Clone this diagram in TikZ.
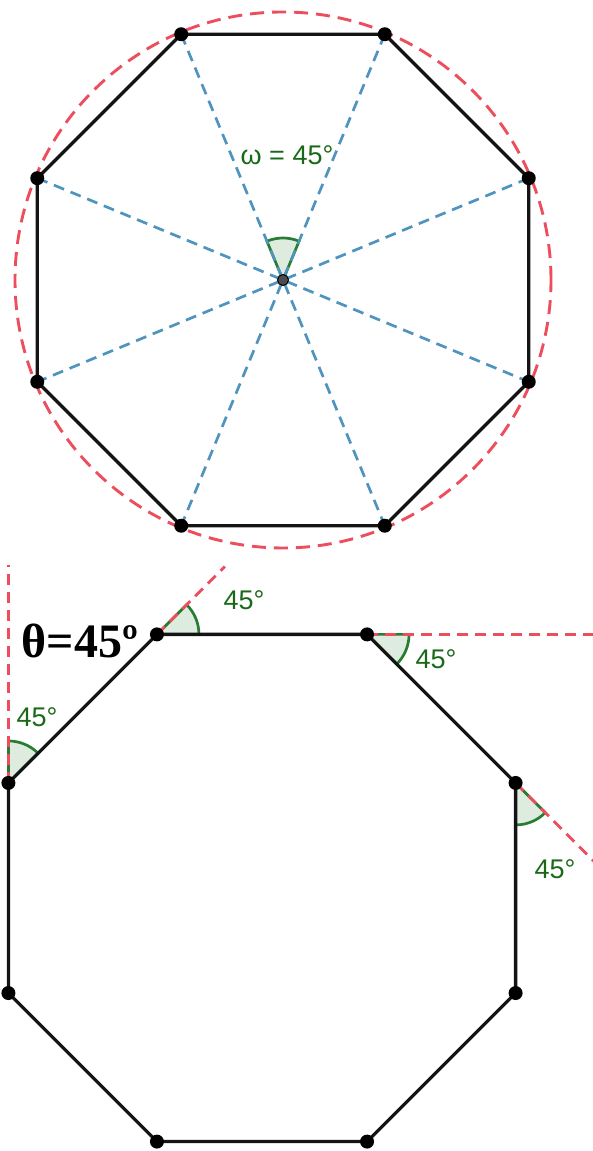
\documentclass[tikz,border=0pt]{standalone}
\usepackage{fontspec}
\setmainfont{Liberation Sans}
\newfontfamily\thetafont{Liberation Serif}
\usetikzlibrary{calc}
\definecolor{edgeblack}{RGB}{20,20,20}
\definecolor{circred}{RGB}{236,78,94}
\definecolor{diagblue}{RGB}{78,148,190}
\definecolor{anggreen}{RGB}{40,125,50}
\definecolor{txtgreen}{RGB}{25,105,25}
\definecolor{wedgefill}{RGB}{222,236,224}
\newcommand{\wdg}[3]{%
  \filldraw[wedge] (#1) -- ($(#1)+(#2:42)$) arc[start angle=#2,end angle=#3,radius=42] -- cycle;%
}
\tikzset{
  side/.style={draw=edgeblack,line width=3.3pt,line cap=round,line join=round},
  diag/.style={draw=diagblue,line width=2.7pt,dash pattern=on 11pt off 7pt},
  circ/.style={draw=circred,line width=2.9pt,dash pattern=on 14pt off 8pt},
  ext/.style={draw=circred,line width=2.9pt,dash pattern=on 11pt off 7pt},
  wedge/.style={draw=anggreen,line width=2.7pt,fill=wedgefill},
  vdot/.style={circle,fill=black,inner sep=0pt,minimum size=14pt},
  cdot/.style={circle,fill=black!70,draw=black,line width=1pt,inner sep=0pt,minimum size=11pt},
  lbl/.style={text=txtgreen,font=\fontsize{27}{29}\selectfont,inner sep=0pt}
}
\begin{document}
\begin{tikzpicture}[x=1pt,y=1pt]
  \useasboundingbox (0,0) rectangle (592,1151);
  % upper octagon, central angle
  \coordinate (o) at (283,871);
  \foreach \k in {1,...,8}
    \coordinate (a\k) at ($(o)+({22.5+45*(\k-1)}:266)$);
  \draw[circ] (o) circle[radius=268];
  \wdg{o}{67.5}{112.5}
  \foreach \k/\m in {1/5,2/6,3/7,4/8}
    \draw[diag] (a\k) -- (a\m);
  \draw[side] (a1) -- (a2) -- (a3) -- (a4) -- (a5) -- (a6) -- (a7) -- (a8) -- cycle;
  \foreach \k in {1,...,8}
    \node[vdot] (p\k) at (a\k) {};
  \node[cdot] (c) at (o) {};
  \node[lbl] (omega) at (287,996) {ω = 45°};

  % lower octagon, exterior angles
  \coordinate (q) at (262,263);
  \foreach \k in {1,...,8}
    \coordinate (b\k) at ($(q)+({22.5+45*(\k-1)}:274.5)$);
  \coordinate (x4) at ($(b4)+(90:218)$);
  \coordinate (x3) at ($(b3)+(45:96)$);
  \coordinate (x2) at ($(b2)+(0:230)$);
  \coordinate (x1) at ($(b1)+(-45:112)$);
  \wdg{b4}{45}{90}
  \wdg{b3}{0}{45}
  \wdg{b2}{-45}{0}
  \wdg{b1}{-90}{-45}
  \foreach \k in {1,...,4}
    \draw[ext] (b\k) -- (x\k);
  \draw[side] (b1) -- (b2) -- (b3) -- (b4) -- (b5) -- (b6) -- (b7) -- (b8) -- cycle;
  \foreach \k in {1,...,8}
    \node[vdot] (r\k) at (b\k) {};
  \node[lbl] (l4) at (37,434) {45°};
  \node[lbl] (l3) at (244,551) {45°};
  \node[lbl] (l2) at (436,492) {45°};
  \node[lbl] (l1) at (555,282) {45°};
  \node[inner sep=0pt,font=\thetafont\bfseries\fontsize{48}{50}\selectfont] (theta) at (80,510) {θ=45º};
\end{tikzpicture}
\end{document}
